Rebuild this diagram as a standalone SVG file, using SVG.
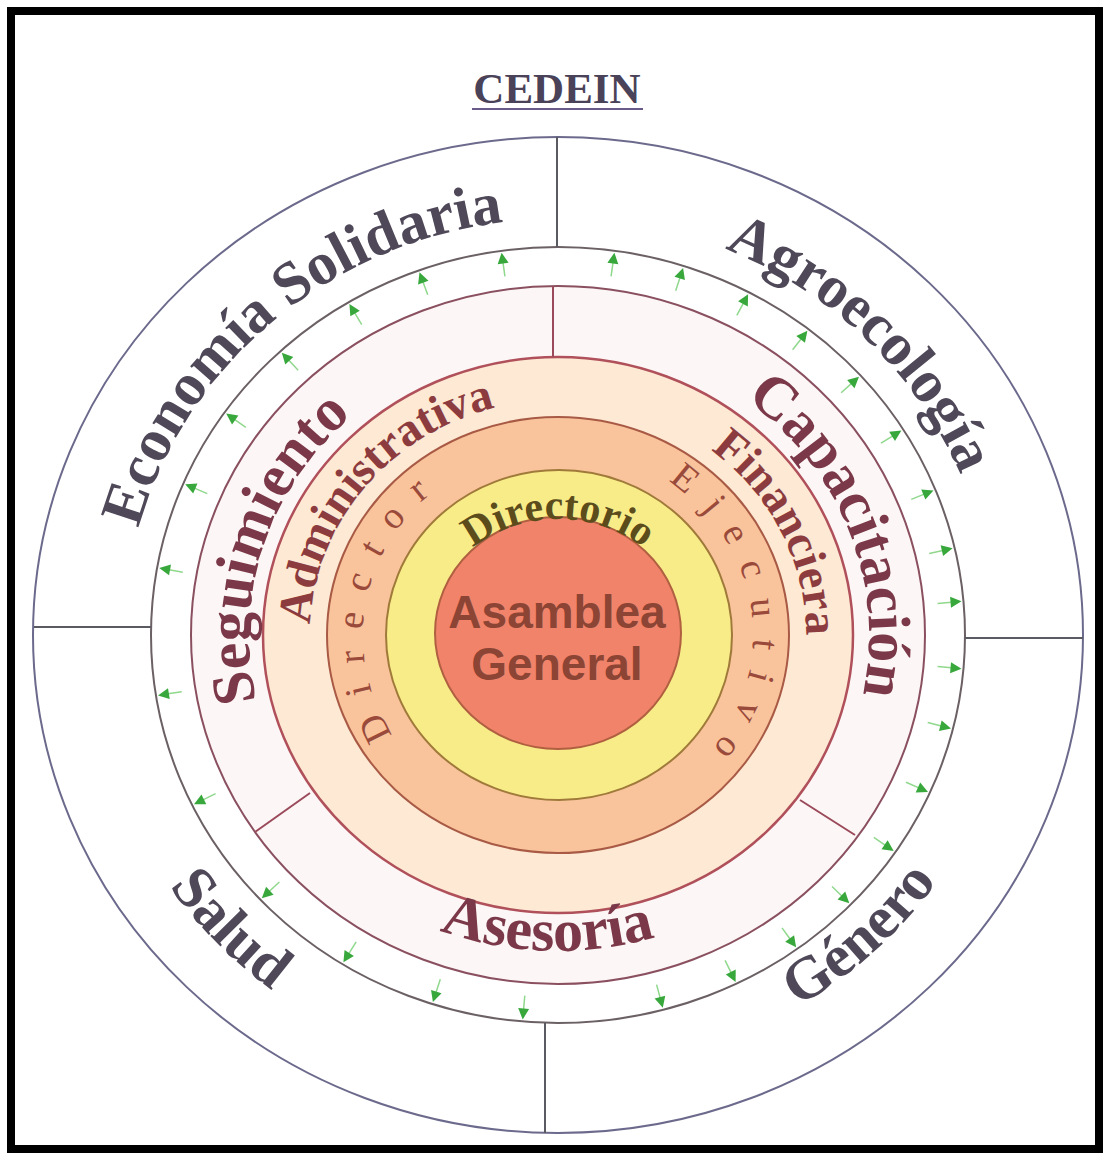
<svg xmlns="http://www.w3.org/2000/svg" xmlns:xlink="http://www.w3.org/1999/xlink" width="1103" height="1153" viewBox="0 0 1103 1153">
  <style>
    .serif { font-family: "Liberation Serif", "Times New Roman", serif; }
    .sans { font-family: "Liberation Sans", Arial, sans-serif; }
    .outer-label { font-size: 60px; font-weight: bold; fill: #4f4858; }
    .area-label { font-size: 60px; font-weight: bold; fill: #7a3848; }
    .unit-label { font-size: 47px; font-weight: bold; fill: #8c3c3e; }
    .exec-label { font-size: 38px; fill: #9a4a3a; letter-spacing: 20px; }
    .board-label { font-size: 42px; font-weight: bold; fill: #5c4c1c; }
    .core-label { font-size: 46px; font-weight: bold; fill: #8c4434; }
    .divider { stroke: #5a5a62; stroke-width: 2; fill: none; }
    .divider-inner { stroke: #9a4a5a; stroke-width: 2; fill: none; }
    .tick-head { fill: #38a83c; }
    .tick-tail { stroke: #8fd88c; stroke-width: 1.5; }
  </style>
  <defs>
    <!-- radial tick: arrowhead pointing along +x with its tip at the origin -->
    <g id="tick">
      <line class="tick-tail" x1="-24" y1="0" x2="-10" y2="0"/>
      <path class="tick-head" d="M0,0 L-11,-5.5 L-11,5.5 Z"/>
    </g>
    <!-- baselines for the curved labels -->
    <path id="p-economia" d="M234,914.7 A436,418 0 0 1 882,355.3"/>
    <path id="p-agro" d="M255.1,334.3 A436,418 0 0 1 860.9,935.7"/>
    <path id="p-salud" d="M240.2,299.1 A475,452 0 0 0 875.8,970.9"/>
    <path id="p-genero" d="M232.7,943.3 A460,436 0 0 0 883.3,326.7"/>
    <path id="p-seguimiento" d="M466.5,919 A313,297 0 0 1 649.5,351"/>
    <path id="p-capacitacion" d="M451,355.9 A313,297 0 0 1 665,914.1"/>
    <path id="p-asesoria" d="M226.2,624 A332,316 0 0 0 889.8,646"/>
    <path id="p-admin" d="M405.3,820.2 A248,235 0 0 1 710.7,449.8"/>
    <path id="p-fin" d="M453.2,422 A248,235 0 0 1 662.8,848"/>
    <path id="p-director" d="M520.8,817.6 A195,186 0 0 1 595.2,452.4"/>
    <path id="p-ejecutivo" d="M537.6,450 A195,186 0 0 1 578.4,820"/>
    <path id="p-directorio" d="M430,633 A128,114 0 0 1 686,633"/>
  </defs>

  <rect x="0" y="0" width="1103" height="1153" fill="#ffffff"/>
  <rect x="11" y="11" width="1088" height="1138" fill="#ffffff" stroke="#000000" stroke-width="8"/>

  <!-- title -->
  <g id="title">
    <text class="serif" x="557" y="103" text-anchor="middle" font-size="43" font-weight="bold" fill="#4a4258">CEDEIN</text>
    <line x1="472" y1="109" x2="643" y2="109" stroke="#6a5a8a" stroke-width="2"/>
  </g>

  <!-- outer ring: thematic programmes -->
  <g id="ring-programmes">
    <ellipse cx="558" cy="635" rx="525" ry="498" fill="#ffffff" stroke="#6c6a8c" stroke-width="2"/>
  </g>

  <!-- green ring with outward ticks -->
  <g id="ring-link">
    <ellipse cx="558" cy="635" rx="407" ry="388" fill="#ffffff" stroke="#6b6064" stroke-width="2"/>
    <g id="ticks">
      <use xlink:href="#tick" transform="translate(501.6,252.7) rotate(-98)"/>
      <use xlink:href="#tick" transform="translate(614.4,252.7) rotate(-82)"/>
      <use xlink:href="#tick" transform="translate(683.1,267.9) rotate(-72)"/>
      <use xlink:href="#tick" transform="translate(748.1,294.2) rotate(-62)"/>
      <use xlink:href="#tick" transform="translate(807.4,330.8) rotate(-52)"/>
      <use xlink:href="#tick" transform="translate(859.0,376.7) rotate(-42)"/>
      <use xlink:href="#tick" transform="translate(901.4,430.5) rotate(-32)"/>
      <use xlink:href="#tick" transform="translate(933.5,490.4) rotate(-22)"/>
      <use xlink:href="#tick" transform="translate(952.6,548.2) rotate(-13)"/>
      <use xlink:href="#tick" transform="translate(961.5,601.3) rotate(-5)"/>
      <use xlink:href="#tick" transform="translate(961.5,668.7) rotate(5)"/>
      <use xlink:href="#tick" transform="translate(951.0,728.4) rotate(14)"/>
      <use xlink:href="#tick" transform="translate(928.0,792.0) rotate(24)"/>
      <use xlink:href="#tick" transform="translate(893.7,850.9) rotate(34)"/>
      <use xlink:href="#tick" transform="translate(849.3,903.2) rotate(44)"/>
      <use xlink:href="#tick" transform="translate(796.1,947.3) rotate(54)"/>
      <use xlink:href="#tick" transform="translate(735.6,981.9) rotate(64)"/>
      <use xlink:href="#tick" transform="translate(662.8,1007.8) rotate(75)"/>
      <use xlink:href="#tick" transform="translate(522.7,1019.5) rotate(95)"/>
      <use xlink:href="#tick" transform="translate(432.9,1002.1) rotate(108)"/>
      <use xlink:href="#tick" transform="translate(343.4,962.3) rotate(122)"/>
      <use xlink:href="#tick" transform="translate(261.8,898.3) rotate(137)"/>
      <use xlink:href="#tick" transform="translate(194.0,804.2) rotate(154)"/>
      <use xlink:href="#tick" transform="translate(158.0,695.4) rotate(171)"/>
      <use xlink:href="#tick" transform="translate(159.2,568.0) rotate(190)"/>
      <use xlink:href="#tick" transform="translate(185.2,484.2) rotate(203)"/>
      <use xlink:href="#tick" transform="translate(226.2,413.6) rotate(215)"/>
      <use xlink:href="#tick" transform="translate(281.8,352.7) rotate(227)"/>
      <use xlink:href="#tick" transform="translate(349.4,304.1) rotate(239)"/>
      <use xlink:href="#tick" transform="translate(419.5,272.3) rotate(250)"/>
    </g>
  </g>

  <!-- support ring: Seguimiento / Capacitación / Asesoría -->
  <g id="ring-support">
    <ellipse cx="558" cy="635" rx="367" ry="349" fill="#fdf6f6" stroke="#8a5060" stroke-width="2"/>
  </g>

  <!-- administration ring -->
  <g id="ring-admin">
    <ellipse cx="558" cy="635" rx="295" ry="278" fill="#fde9d4" stroke="#b0505a" stroke-width="2.5"/>
  </g>

  <!-- executive director ring -->
  <g id="ring-executive">
    <ellipse cx="558" cy="635" rx="231" ry="218" fill="#f9c39c" stroke="#a85a45" stroke-width="2"/>
  </g>

  <!-- board ring -->
  <g id="ring-board">
    <ellipse cx="559" cy="635" rx="173" ry="165" fill="#f8ec88" stroke="#a07a3a" stroke-width="2"/>
  </g>

  <!-- general assembly core -->
  <g id="core-assembly">
    <ellipse cx="558" cy="633" rx="123" ry="116" fill="#f0836a" stroke="#b06040" stroke-width="2"/>
    <text class="sans core-label" x="557" y="628" text-anchor="middle">Asamblea</text>
    <text class="sans core-label" x="557" y="680" text-anchor="middle">General</text>
  </g>

  <!-- radial dividers between sectors -->
  <g id="connectors">
    <line class="divider" x1="557" y1="137" x2="557" y2="247"/>
    <line class="divider" x1="545" y1="1023" x2="545" y2="1133"/>
    <line class="divider" x1="34" y1="627" x2="151" y2="627"/>
    <line class="divider" x1="965" y1="638" x2="1083" y2="638"/>
    <line class="divider-inner" x1="553" y1="286" x2="553" y2="357"/>
    <line class="divider-inner" x1="255" y1="832" x2="310" y2="793"/>
    <line class="divider-inner" x1="800" y1="800" x2="855" y2="835"/>
  </g>

  <!-- ring labels -->
  <g id="labels">
    <text class="serif outer-label"><textPath xlink:href="#p-economia" startOffset="50%" text-anchor="middle">Economía Solidaria</textPath></text>
    <text class="serif outer-label"><textPath xlink:href="#p-agro" startOffset="50%" text-anchor="middle">Agroecología</textPath></text>
    <text class="serif outer-label"><textPath xlink:href="#p-salud" startOffset="50%" text-anchor="middle">Salud</textPath></text>
    <text class="serif outer-label"><textPath xlink:href="#p-genero" startOffset="50%" text-anchor="middle">Género</textPath></text>
    <text class="serif area-label"><textPath xlink:href="#p-seguimiento" startOffset="50%" text-anchor="middle">Seguimiento</textPath></text>
    <text class="serif area-label"><textPath xlink:href="#p-capacitacion" startOffset="50%" text-anchor="middle">Capacitación</textPath></text>
    <text class="serif area-label"><textPath xlink:href="#p-asesoria" startOffset="50%" text-anchor="middle">Asesoría</textPath></text>
    <text class="serif unit-label"><textPath xlink:href="#p-admin" startOffset="50%" text-anchor="middle">Administrativa</textPath></text>
    <text class="serif unit-label"><textPath xlink:href="#p-fin" startOffset="50%" text-anchor="middle">Financiera</textPath></text>
    <text class="serif exec-label"><textPath xlink:href="#p-director" startOffset="50%" text-anchor="middle">Director</textPath></text>
    <text class="serif exec-label"><textPath xlink:href="#p-ejecutivo" startOffset="50%" text-anchor="middle">Ejecutivo</textPath></text>
    <text class="serif board-label"><textPath xlink:href="#p-directorio" startOffset="50%" text-anchor="middle">Directorio</textPath></text>
  </g>
</svg>
